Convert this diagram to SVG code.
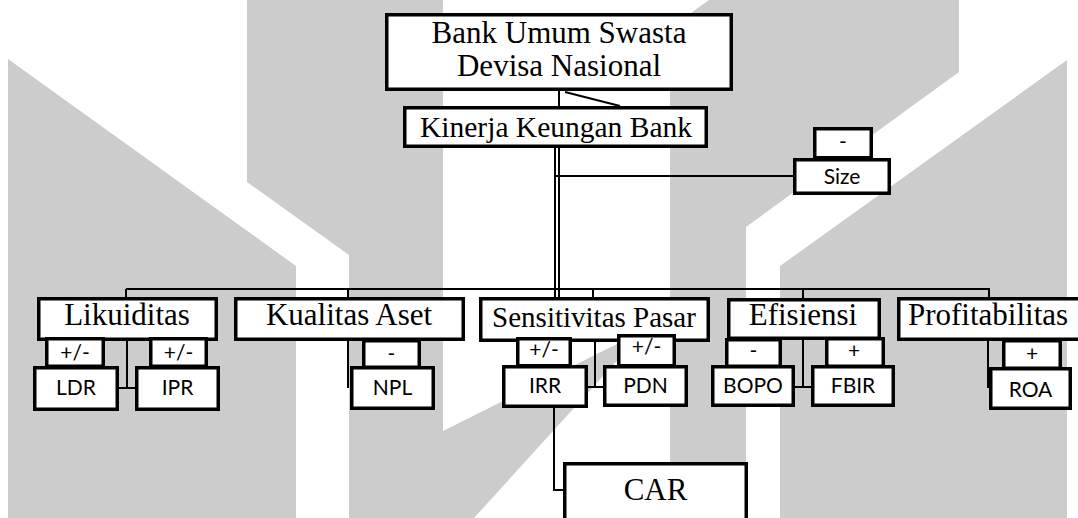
<svg xmlns="http://www.w3.org/2000/svg" width="1078" height="518" viewBox="0 0 1078 518">
<style>
.bg{fill:#cccccc;stroke:none}
.box{fill:#fff;stroke:#000;stroke-width:3.5}
.ln{stroke:#000;stroke-width:2;fill:none}
.ser{font-family:"Liberation Serif","Times New Roman",serif;fill:#000;text-anchor:middle}
.sans{font-family:Lato,"Noto Sans",sans-serif;fill:#000;text-anchor:middle;font-size:21px}
</style>
<rect width="1078" height="518" fill="#fff"/>
<g id="watermark">
<polygon class="bg" points="8,59 296,266 296,518 8,518"/>
<polygon class="bg" points="247,0 349,0 349,255 247,182"/>
<polygon class="bg" points="349,0 443,0 443,431 645,330 474,518 349,518"/>
<polygon class="bg" points="670,28 709,0 959,0 959,72 746,227 746,518 670,518"/>
<polygon class="bg" points="1067,60 1067,518 780,518 780,266"/>
</g>
<g id="connectors">
<line class="ln" x1="559" y1="91" x2="559" y2="106"/>
<line class="ln" x1="565" y1="92" x2="620" y2="106"/>
<line class="ln" x1="555" y1="148" x2="555" y2="298"/>
<line class="ln" x1="559" y1="148" x2="559" y2="298"/>
<line class="ln" x1="555" y1="176" x2="794" y2="176"/>
<line class="ln" x1="126" y1="289" x2="990" y2="289" stroke-width="2.5"/>
<line class="ln" x1="126" y1="289" x2="126" y2="298"/>
<line class="ln" x1="348" y1="289" x2="348" y2="298"/>
<line class="ln" x1="593" y1="289" x2="593" y2="298"/>
<line class="ln" x1="803" y1="289" x2="803" y2="299"/>
<line class="ln" x1="989" y1="289" x2="989" y2="298"/>
<polyline class="ln" points="127,341 127,388 135,388" stroke-width="2.5"/>
<line class="ln" x1="119" y1="388" x2="127" y2="388" stroke-width="2.5"/>
<line class="ln" x1="348" y1="341" x2="348" y2="388"/>
<polyline class="ln" points="595,342 595,387 603,387"/>
<line class="ln" x1="588" y1="387" x2="595" y2="387"/>
<polyline class="ln" points="554,408 554,490 564,490"/>
<polyline class="ln" points="803,340 803,387 811,387"/>
<line class="ln" x1="795" y1="387" x2="803" y2="387"/>
<line class="ln" x1="988" y1="341" x2="988" y2="388"/>
</g>
<g id="bank">
<rect class="box" x="386.75" y="14.75" width="344.5" height="74.5"/>
<text class="ser" x="559" y="43" font-size="31">Bank Umum Swasta</text>
<text class="ser" x="559" y="76" font-size="31">Devisa Nasional</text>
</g>
<g id="kinerja">
<rect class="box" x="404.75" y="107.75" width="301.5" height="38.5"/>
<text class="ser" x="556" y="137" font-size="29.5">Kinerja Keungan Bank</text>
</g>
<g id="size">
<rect class="box" x="814.75" y="128.75" width="56.5" height="29"/>
<text class="sans" x="843" y="149">-</text>
<rect class="box" x="794.75" y="159.75" width="94.5" height="33.5"/>
<text class="sans" x="842" y="184" font-size="22">Size</text>
</g>
<g id="likuiditas">
<rect class="box" x="38.75" y="298.75" width="177.5" height="40.5"/>
<text class="ser" x="127" y="325" font-size="31">Likuiditas</text>
</g>
<g id="kualitas-aset">
<rect class="box" x="235.75" y="298.75" width="227.5" height="40.5"/>
<text class="ser" x="349" y="325" font-size="31">Kualitas Aset</text>
</g>
<g id="sensitivitas-pasar">
<rect class="box" x="480.75" y="298.75" width="227.5" height="41.5"/>
<text class="ser" x="594" y="327" font-size="29">Sensitivitas Pasar</text>
</g>
<g id="efisiensi">
<rect class="box" x="728.75" y="299.75" width="150.5" height="38.5"/>
<text class="ser" x="803" y="325" font-size="31">Efisiensi</text>
</g>
<g id="profitabilitas">
<rect class="box" x="898.75" y="298.75" width="185" height="40.5"/>
<text class="ser" x="988" y="325" font-size="31">Profitabilitas</text>
</g>
<g id="ldr">
<rect class="box" x="34.75" y="367.75" width="82.5" height="41.5"/>
<text class="sans" x="76" y="395">LDR</text>
<rect class="box" x="46.75" y="338.75" width="56.5" height="27.5"/>
<text class="sans" x="75" y="360">+/-</text>
</g>
<g id="ipr">
<rect class="box" x="136.75" y="367.75" width="81.5" height="41.5"/>
<text class="sans" x="177.5" y="395">IPR</text>
<rect class="box" x="150.75" y="338.75" width="55.5" height="27.5"/>
<text class="sans" x="178.5" y="360">+/-</text>
</g>
<g id="npl">
<rect class="box" x="351.75" y="367.75" width="81.5" height="40.5"/>
<text class="sans" x="392.5" y="395">NPL</text>
<rect class="box" x="363.75" y="340.75" width="55.5" height="26.5"/>
<text class="sans" x="391.5" y="361">-</text>
</g>
<g id="irr">
<rect class="box" x="503.75" y="366.75" width="82.5" height="39.5"/>
<text class="sans" x="545" y="393">IRR</text>
<rect class="box" x="517.75" y="338.75" width="52.5" height="27"/>
<text class="sans" x="544" y="357">+/-</text>
</g>
<g id="pdn">
<rect class="box" x="604.75" y="366.75" width="81.5" height="38.5"/>
<text class="sans" x="645.5" y="393">PDN</text>
<rect class="box" x="618.75" y="335.75" width="55.5" height="30"/>
<text class="sans" x="646.5" y="354">+/-</text>
</g>
<g id="bopo">
<rect class="box" x="712.75" y="366.75" width="80.5" height="38.5"/>
<text class="sans" x="753" y="393">BOPO</text>
<rect class="box" x="726.75" y="339.75" width="53.5" height="26.5"/>
<text class="sans" x="753.5" y="358">-</text>
</g>
<g id="fbir">
<rect class="box" x="812.75" y="366.75" width="80.5" height="38.5"/>
<text class="sans" x="853" y="393">FBIR</text>
<rect class="box" x="826.75" y="338.75" width="56.5" height="27.5"/>
<text class="sans" x="854" y="358">+</text>
</g>
<g id="roa">
<rect class="box" x="990.75" y="368.75" width="79.5" height="39.5"/>
<text class="sans" x="1030.5" y="397">ROA</text>
<rect class="box" x="1003.75" y="340.75" width="56.5" height="27.5"/>
<text class="sans" x="1032" y="361">+</text>
</g>
<g id="car">
<rect class="box" x="564.75" y="463.75" width="181.5" height="70"/>
<text class="ser" x="655.5" y="500" font-size="31">CAR</text>
</g>
</svg>
